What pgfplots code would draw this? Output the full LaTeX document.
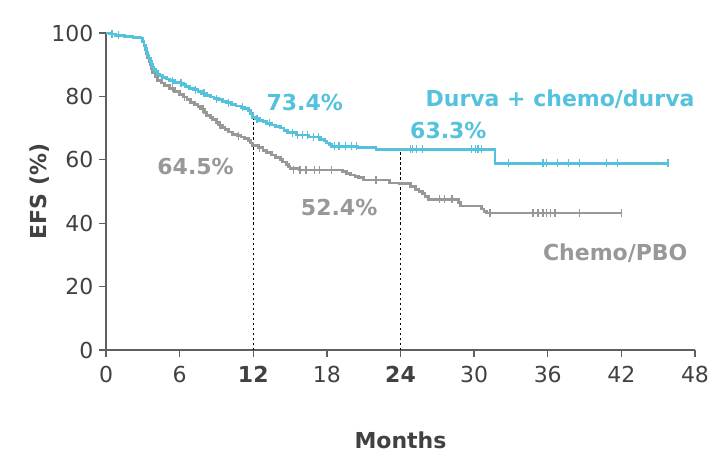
\documentclass[border=0pt]{standalone}
\usepackage{pgfplots}
\pgfplotsset{compat=1.18}
\usepackage{fontspec}
\setmainfont{DejaVu Sans}

\definecolor{durva}{RGB}{84,194,220}
\definecolor{chemo}{RGB}{152,152,152}
\definecolor{axisgray}{RGB}{95,95,95}
\definecolor{ticktext}{RGB}{65,65,65}

% Kaplan-Meier step curves (months, EFS %)
\pgfplotstableread{
t s
0 100
0.3 99.7
0.8 99.3
1.5 99.0
2.2 98.7
2.8 98.4
3.0 97.3
3.1 96.2
3.2 95.1
3.3 94.0
3.4 93.0
3.5 92.0
3.6 91.0
3.7 90.0
3.8 89.2
3.9 88.5
4.05 87.8
4.2 87.0
4.4 86.5
4.6 86.0
4.9 85.5
5.2 85.0
5.6 84.5
6.0 84.2
6.3 83.8
6.5 83.2
6.8 82.6
7.1 82.1
7.5 81.5
7.8 81.0
8.2 80.3
8.5 79.8
8.8 79.3
9.2 78.9
9.5 78.5
9.8 78.0
10.2 77.5
10.6 77.0
11.0 76.5
11.3 76.1
11.6 75.6
11.8 74.5
11.95 73.4
12.2 73.0
12.5 72.5
12.8 72.0
13.1 71.5
13.5 71.0
13.8 70.5
14.2 70.0
14.5 69.2
14.8 68.5
15.5 67.8
16.5 67.2
17.5 66.5
17.8 65.9
18.0 65.3
18.2 64.7
18.4 64.2
20.5 63.9
22.0 63.3
31.7 58.9
45.8 58.9
}\durvatab

\pgfplotstableread{
t s
0 100
0.3 99.7
0.8 99.3
1.5 99.0
2.2 98.7
2.8 98.4
3.0 97.2
3.1 96.0
3.2 94.8
3.3 93.5
3.4 92.3
3.5 91.0
3.6 90.0
3.7 88.8
3.8 87.5
4.0 86.2
4.2 85.0
4.5 84.2
4.8 83.5
5.2 82.5
5.6 81.5
6.0 80.5
6.3 79.8
6.6 79.0
6.9 78.2
7.2 77.5
7.5 76.7
7.7 76.0
8.0 75.0
8.2 74.0
8.5 73.3
8.7 72.6
9.0 71.8
9.2 71.0
9.5 70.2
9.7 69.5
10.0 68.8
10.3 68.0
10.7 67.6
11.0 67.2
11.3 66.8
11.6 66.2
11.8 65.3
11.95 64.5
12.4 63.8
12.8 63.0
13.1 62.2
13.5 61.5
13.8 60.8
14.2 60.0
14.4 59.3
14.7 58.5
14.9 57.8
15.0 57.2
15.8 56.8
19.3 56.3
19.6 55.6
19.9 55.2
20.3 54.7
20.6 54.3
21.0 53.6
23.1 52.7
23.9 52.4
24.8 51.5
25.2 50.7
25.5 50.0
25.8 49.3
26.0 48.5
26.3 47.5
28.7 46.5
28.9 45.4
30.6 44.5
30.8 43.8
31.0 43.2
42.0 43.2
}\chemotab

% Censoring ticks
\pgfplotstableread{
t s
0.5 99.7
1.0 99.3
5.4 85.0
6.1 84.2
7.3 82.1
8.0 81.0
9.0 79.3
10.0 78.0
11.1 76.5
12.3 73.0
13.3 71.5
15.2 68.5
15.6 67.8
16.0 67.8
16.4 67.8
16.9 67.2
17.3 67.2
18.6 64.2
19.0 64.2
19.5 64.2
20.0 64.2
20.4 64.2
24.8 63.3
25.0 63.3
25.3 63.3
25.8 63.3
29.8 63.3
30.1 63.3
30.3 63.3
30.6 63.3
32.8 58.9
35.6 58.9
35.9 58.9
36.8 58.9
37.7 58.9
38.6 58.9
40.8 58.9
41.7 58.9
45.8 58.9
}\durvacens

\pgfplotstableread{
t s
5.4 82.5
6.4 79.8
7.9 76.0
9.3 71.0
10.8 67.6
12.5 63.8
15.3 56.8
15.8 56.8
16.3 56.8
17.0 56.8
17.4 56.8
18.4 56.8
22.0 53.6
27.2 47.5
27.6 47.5
28.2 47.5
31.3 43.2
34.8 43.2
35.2 43.2
35.6 43.2
35.9 43.2
36.2 43.2
36.6 43.2
38.6 43.2
42.0 43.2
}\chemocens

\begin{document}
\begin{tikzpicture}[font=\fontsize{22bp}{26bp}\selectfont]
\path[use as bounding box] (-106bp,-110bp) rectangle (620bp,350bp);
\begin{axis}[
  name=ax, at={(0,0)}, anchor=south west,
  scale only axis, width=589bp, height=317bp,
  xmin=0, xmax=48, ymin=0, ymax=100,
  axis lines=left,
  axis line style={-, draw=axisgray, line width=1.5bp},
  xtick={0,6,...,48},
  xticklabels={0,6,\textbf{12},18,\textbf{24},30,36,42,48},
  ytick={0,20,...,100},
  tick align=outside, major tick length=7bp,
  tick style={draw=axisgray, line width=1.3bp},
  ticklabel style={text=ticktext},
  xticklabel style={yshift=-6bp},
  yticklabel style={xshift=-2bp},
  /pgf/number format/assume math mode=true,
  xlabel={\textbf{Months}},
  ylabel={\textbf{EFS (\%)}},
  label style={text=ticktext},
  xlabel style={at={(axis description cs:0.5,-0.284)}, anchor=center},
  ylabel style={at={(axis description cs:-0.112,0.5)}, anchor=center},
  every node/.append style={font=\fontsize{22bp}{26bp}\selectfont},
  clip=false,
]
% landmark lines at 12 and 24 months
\addplot[black, line width=1.2bp, dash pattern=on 2.5bp off 2.5bp] coordinates {(12,0) (12,73.4)};
\addplot[black, line width=1.2bp, dash pattern=on 2.5bp off 2.5bp] coordinates {(24,0) (24,63.3)};

\addplot[const plot, chemo, line width=2.8bp] table[x=t, y=s] {\chemotab};
\addplot[only marks, mark=|, mark size=4bp, mark options={line width=1.4bp, draw=chemo}] table[x=t, y=s] {\chemocens};

\addplot[const plot, durva, line width=2.8bp] table[x=t, y=s] {\durvatab};
\addplot[only marks, mark=|, mark size=4bp, mark options={line width=1.4bp, draw=durva}] table[x=t, y=s] {\durvacens};

\node[text=durva, font=\fontsize{22bp}{26bp}\selectfont\bfseries] at (axis cs:16.2,78) {73.4\%};
\node[text=chemo, font=\fontsize{22bp}{26bp}\selectfont\bfseries] at (axis cs:7.3,58) {64.5\%};
\node[text=durva, font=\fontsize{22bp}{26bp}\selectfont\bfseries] at (axis cs:27.9,69.4) {63.3\%};
\node[text=chemo, font=\fontsize{22bp}{26bp}\selectfont\bfseries] at (axis cs:19.0,44.8) {52.4\%};
\node[text=durva, font=\fontsize{22bp}{26bp}\selectfont\bfseries] at (axis cs:37.0,79.0) {Durva + chemo/durva};
\node[text=chemo, font=\fontsize{22bp}{26bp}\selectfont\bfseries] at (axis cs:41.5,30.6) {Chemo/PBO};
\end{axis}
\end{tikzpicture}
\end{document}
